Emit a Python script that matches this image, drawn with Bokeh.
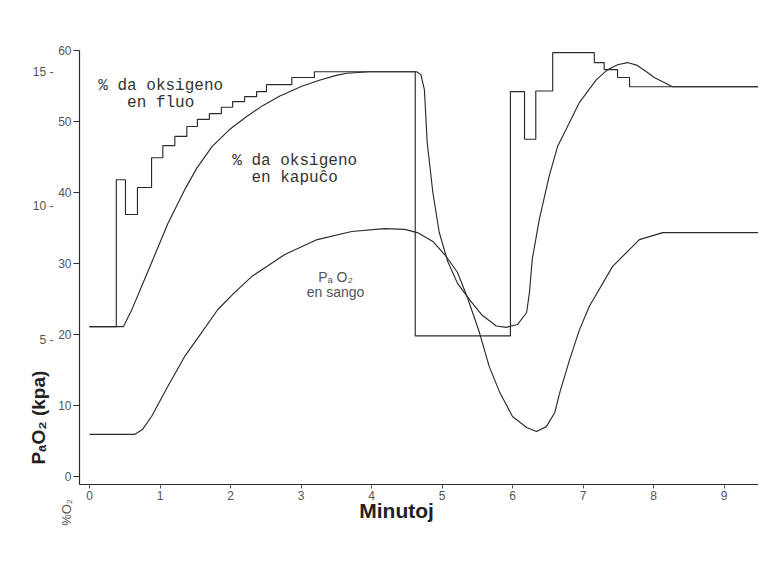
import math
from bokeh.plotting import figure
from bokeh.models import Range1d, LinearAxis, FixedTicker, Label
from bokeh.core.properties import value
from bokeh.embed import file_html
from bokeh.resources import INLINE

# ---------------- data ----------------
# % O2 in the gas flow (step changes), minutes
fluo_t = [0.0, 0.38, 0.51, 0.68, 0.88, 1.04, 1.21, 1.38, 1.53, 1.70, 1.87, 2.03,
          2.20, 2.37, 2.51, 2.87, 3.19, 4.62, 5.97, 6.17, 6.33, 6.57, 7.16, 7.30,
          7.49, 7.66, 9.57]
fluo_pct = [21.1, 41.8, 36.9, 40.7, 44.9, 46.6, 47.9, 49.3, 50.3, 51.1, 52.0, 52.8,
            53.5, 54.2, 55.2, 56.2, 57.0, 19.8, 54.2, 47.5, 54.3, 59.7, 58.3, 57.3,
            56.2, 54.9, 54.9]

# % O2 in the hood
hood_t = [0.0, 0.48, 0.60, 0.74, 0.88, 1.11, 1.35, 1.52, 1.74, 1.99, 2.23, 2.45,
          2.70, 3.02, 3.26, 3.50, 3.65, 3.97, 4.64, 4.70, 4.75, 4.79, 4.87, 4.96,
          5.08, 5.22, 5.39, 5.57, 5.77, 5.91, 6.07, 6.20, 6.24, 6.28, 6.38, 6.52,
          6.64, 6.71, 6.95, 7.19, 7.35, 7.49, 7.63, 7.77, 7.90, 8.01, 8.13, 8.27,
          9.57]
hood_pct = [21.1, 21.1, 23.5, 26.8, 30.1, 35.6, 40.4, 43.4, 46.5, 48.9, 50.7, 52.2,
            53.6, 55.0, 55.8, 56.5, 56.8, 57.0, 57.0, 56.6, 54.5, 47.0, 40.0, 34.4,
            30.3, 27.2, 24.9, 22.7, 21.2, 21.0, 21.4, 23.1, 25.9, 30.6, 36.2, 42.3,
            46.5, 47.9, 52.7, 55.9, 57.3, 58.0, 58.3, 57.9, 57.0, 56.2, 55.6, 54.9,
            54.9]

# PaO2 in blood, kPa
pao2_t = [0.0, 0.64, 0.75, 0.88, 1.11, 1.35, 1.59, 1.82, 2.06, 2.30, 2.77, 3.23,
          3.72, 4.18, 4.47, 4.65, 4.87, 5.06, 5.22, 5.36, 5.53, 5.67, 5.82, 6.00,
          6.20, 6.34, 6.48, 6.60, 6.67, 6.81, 6.95, 7.09, 7.42, 7.80, 8.13, 9.57]
pao2_kpa = [1.47, 1.47, 1.65, 2.14, 3.26, 4.38, 5.27, 6.13, 6.77, 7.36, 8.18, 8.74,
            9.04, 9.15, 9.12, 9.00, 8.67, 8.11, 7.51, 6.58, 5.28, 4.00, 3.03, 2.14,
            1.73, 1.58, 1.76, 2.29, 3.03, 4.26, 5.38, 6.25, 7.74, 8.74, 9.00, 9.00]

x_ticks = [0, 1, 2, 3, 4, 5, 6, 7, 8, 9]
pct_ticks = [0, 10, 20, 30, 40, 50, 60]
kpa_ticks = [5, 10, 15]
kpa_tick_labels = {5: "5 -", 10: "10 -", 15: "15 -"}

mono_text = ["% da oksigeno\nen fluo", "% da oksigeno\nen kapuĉo"]
mono_t = [1.01, 2.91]
mono_pct = [53.8, 43.2]
sans_text = ["Pₐ O₂\nen sango"]
sans_t = [3.49]
sans_pct = [27.0]

x_title = "Minutoj"
kpa_title = "PₐO₂ (kpa)"
pct_title = "%O₂"

INK = "#2b2b2b"
GREY = "#555555"

# ---------------- figure ----------------
p = figure(width=758, height=557,
           x_range=Range1d(-0.142, 9.489), y_range=Range1d(-1.13, 60.0),
           output_backend="svg", toolbar_location=None,
           min_border_left=79, min_border_right=0, min_border_top=50,
           min_border_bottom=73)
p.extra_y_ranges = {"kpa": Range1d(-0.399, 15.795)}
p.outline_line_color = None
p.grid.visible = False
p.background_fill_color = "white"
p.border_fill_color = "white"

xa = p.xaxis[0]
xa.ticker = FixedTicker(ticks=x_ticks)
xa.axis_line_color = INK
xa.axis_line_width = 1.2
xa.major_tick_line_color = GREY
xa.major_tick_out = 4
xa.major_tick_in = 0
xa.minor_tick_line_color = None
xa.major_label_standoff = 2
xa.major_label_text_font = "Liberation Sans"
xa.major_label_text_font_size = "12px"
xa.major_label_text_color = GREY

ya = p.yaxis[0]
ya.ticker = FixedTicker(ticks=pct_ticks)
ya.axis_line_color = INK
ya.axis_line_width = 1.2
ya.major_tick_line_color = INK
ya.major_tick_out = 6
ya.major_tick_in = 0
ya.minor_tick_line_color = None
ya.major_label_standoff = 2
ya.major_label_text_font = "Liberation Sans"
ya.major_label_text_font_size = "12px"
ya.major_label_text_color = GREY

ka = LinearAxis(y_range_name="kpa", ticker=FixedTicker(ticks=kpa_ticks),
                major_label_overrides=kpa_tick_labels)
ka.axis_line_color = None
ka.major_tick_line_color = None
ka.minor_tick_line_color = None
ka.major_tick_out = 0
ka.major_tick_in = 0
ka.major_label_standoff = 2
ka.major_label_text_font = "Liberation Sans"
ka.major_label_text_font_size = "12px"
ka.major_label_text_color = GREY
p.add_layout(ka, "left")

# ---------------- curves ----------------
p.step(fluo_t, fluo_pct, mode="after", line_color=INK, line_width=1.15)
p.line(hood_t, hood_pct, line_color=INK, line_width=1.15)
p.line(pao2_t, pao2_kpa, y_range_name="kpa", line_color=INK, line_width=1.15)

# ---------------- in-plot labels ----------------
p.text(x=mono_t, y=mono_pct, text=mono_text, text_align="center",
       text_baseline="middle", text_font=value("Liberation Mono"),
       text_font_size="16px", text_color="#333333", text_line_height=0.92)
p.text(x=sans_t, y=sans_pct, text=sans_text, text_align="center",
       text_baseline="middle", text_font=value("Liberation Sans"),
       text_font_size="14px", text_color="#555555", text_line_height=0.95)

# ---------------- axis titles (in side panels so they are not clipped) ----------------
p.add_layout(Label(x=4.355, y=-4.79, text=x_title, text_align="center",
                   text_baseline="middle", text_font="Liberation Sans",
                   text_font_style="bold", text_font_size="21px",
                   text_color="#222222"), "above")
p.add_layout(Label(x=-0.723, y=8.3, text=kpa_title, angle=math.pi / 2,
                   text_align="center", text_baseline="middle",
                   text_font="Liberation Sans", text_font_style="bold",
                   text_font_size="19px", text_color="#222222"), "left")
p.add_layout(Label(x=-0.326, y=-5.07, text=pct_title, angle=math.pi / 2,
                   text_align="center", text_baseline="middle",
                   text_font="Liberation Sans", text_font_size="13px",
                   text_color=GREY), "below")

open("out.html", "w").write(file_html(p, INLINE))
